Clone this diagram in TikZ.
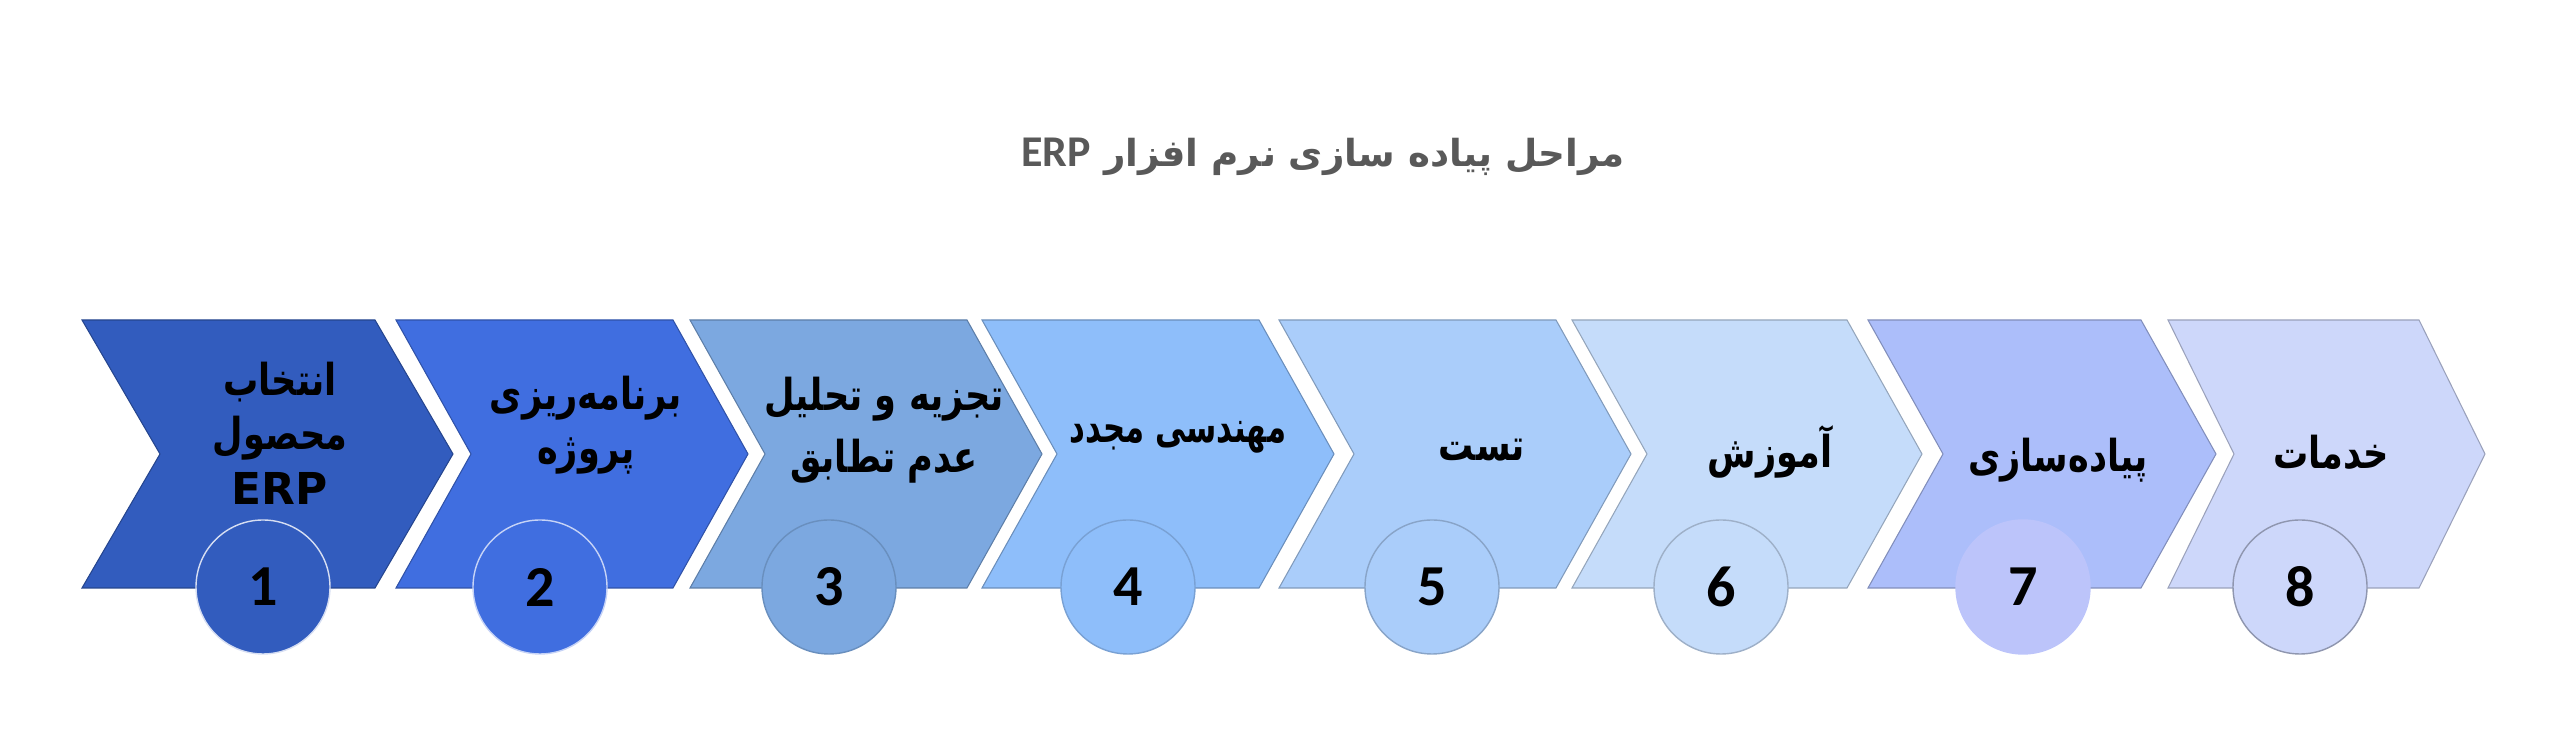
\documentclass[tikz,border=0pt]{standalone}
\usepackage{fontspec}
\usepackage{graphicx}
\setmainfont{Carlito}
\newfontfamily\farsi[Script=Arabic]{DejaVu Sans}
\TeXXeTstate=1
\usetikzlibrary{positioning}

\definecolor{ch1}{HTML}{325CBE}
\definecolor{ch2}{HTML}{406EE0}
\definecolor{ch3}{HTML}{7CA8E0}
\definecolor{ch4}{HTML}{8EBEFA}
\definecolor{ch5}{HTML}{AACDFA}
\definecolor{ch6}{HTML}{C5DCFA}
\definecolor{ch7}{HTML}{ACBEFA}
\definecolor{ch8}{HTML}{CDD7FA}
\definecolor{c7}{HTML}{BCC4FA}
\definecolor{titlegray}{HTML}{595959}

\newcommand{\fa}[2][0.8]{\scalebox{#1}[1]{\farsi\bfseries\beginR #2\endR}}

\begin{document}
\begin{tikzpicture}[
        x = 0.1mm, y = 0.1mm,
        num/.style = {
            draw,
            circle,
            fill = #1,
            minimum size = 13.4mm,
            inner sep = 0pt,
            line width = 0.4pt,
            font = \fontsize{16.5pt}{18pt}\selectfont\bfseries
        },
        num/.default = ch1,
        lbl/.style = {
            align = center,
            inner sep = 0pt,
            font = \fontsize{12.5pt}{15.5pt}\selectfont
        }
    ]
    \useasboundingbox (0,0) rectangle (2560,730);

    % title
    \node[font=\fontsize{10.6pt}{12pt}\selectfont\bfseries, text=titlegray] (title) at (1323,573)
        {\farsi\beginR مراحل پیاده سازی نرم افزار \beginL{\normalfont\fontsize{12.5pt}{12pt}\selectfont\bfseries ERP}\endL\endR};

    % chevrons
    \foreach \i/\xs/\w/\d in {1/82/293/78, 2/396/277/75, 3/690/277/75, 4/982/277/75,
                              5/1279/277/75, 6/1572/275/75, 7/1868/273/75, 8/2168/251/66}
        \filldraw[fill=ch\i, draw=ch\i!75!black, line width=0.3pt]
            (\xs,410) -- ++(\w,0) -- ++(\d,-134) -- ++(-\d,-134) -- ++(-\w,0) -- ++(\d,134) -- cycle;

    % numbers
    \node[num=ch1, draw=white!80!ch1] (n1) at (263,143) {1};
    \node[num=ch2, draw=white!70!ch2] (n2) at (540,143) {2};
    \node[num=ch3, draw=ch3!85!black] (n3) at (829,143) {3};
    \node[num=ch4, draw=ch4!85!black] (n4) at (1128,143) {4};
    \node[num=ch5, draw=ch5!80!black] (n5) at (1432,143) {5};
    \node[num=ch6, draw=ch6!80!black] (n6) at (1721,143) {6};
    \node[num=c7, draw=c7] (n7) at (2023,143) {7};
    \node[num=ch8, draw=ch8!70!black] (n8) at (2300,143) {8};

    % labels
    \node[lbl] (t1) at (280,297) {\fa{انتخاب}\\ \fa{محصول}\\ {\farsi\bfseries ERP}};
    \node[lbl] (t2) at (586,305) {\fa{برنامه‌ریزی}\\ \fa{پروژه}};
    \node[lbl] (t3) at (884,300) {\fa{تجزیه و تحلیل}\\[2pt] \fa{عدم تطابق}};
    \node[lbl] (t4) at (1178,293) {\fa[0.7]{مهندسی مجدد}};
    \node[lbl] (t5) at (1482,280) {\fa{تست}};
    \node[lbl] (t6) at (1770,278) {\fa{آموزش}};
    \node[lbl] (t7) at (2058,270) {\fa{پیاده‌سازی}};
    \node[lbl] (t8) at (2331,278) {\fa{خدمات}};
\end{tikzpicture}
\end{document}
